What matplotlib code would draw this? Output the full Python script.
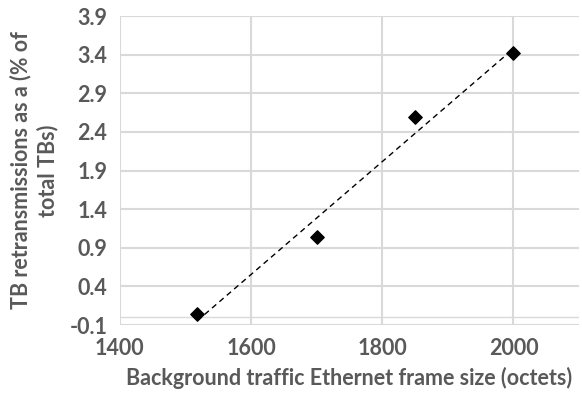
import numpy as np
from matplotlib import pyplot as plt

frame_size = [1518, 1700, 1850, 2000]
retrans = [0.04, 1.04, 2.60, 3.42]
yticks = [-0.1, 0.4, 0.9, 1.4, 1.9, 2.4, 2.9, 3.4, 3.9]
xticks = [1400, 1600, 1800, 2000]

plt.rcParams['font.family'] = ['Lato', 'DejaVu Sans']
grey = '#595959'

fig = plt.figure(figsize=(5.82, 3.93), dpi=100)
ax = fig.add_axes([0.206, 0.173, 0.789, 0.786])

ax.set_xlim(1400, 2100)
ax.set_ylim(-0.1, 3.9)
ax.set_xticks(xticks)
ax.set_yticks(yticks)
ax.set_yticklabels(['%.1f' % v for v in yticks])
ax.grid(True, color='#d9d9d9', linewidth=1.5)
ax.set_axisbelow(True)
for s in ax.spines.values():
    s.set_visible(False)
ax.axhline(0, color='#d9d9d9', linewidth=1, zorder=1)
ax.tick_params(length=0, labelsize=15.5, labelcolor=grey, pad=9)
for lab in ax.get_xticklabels() + ax.get_yticklabels():
    lab.set_fontweight('bold')

# linear trendline
k, b = np.polyfit(frame_size, retrans, 1)
xs = np.array([frame_size[0], frame_size[-1]])
ax.plot(xs, k * xs + b, color='black', linestyle=(0, (4, 3)), linewidth=1, zorder=2)
ax.scatter(frame_size, retrans, marker='D', s=46, color='black', zorder=3)

ax.set_xlabel('Background traffic Ethernet frame size (octets)', fontsize=15.5,
              fontweight='bold', color=grey, labelpad=6)
ax.set_ylabel('TB retransmissions as a (% of\ntotal TBs)', fontsize=15.5,
              fontweight='bold', color=grey, labelpad=8, linespacing=1.3)

plt.savefig('out.png')
